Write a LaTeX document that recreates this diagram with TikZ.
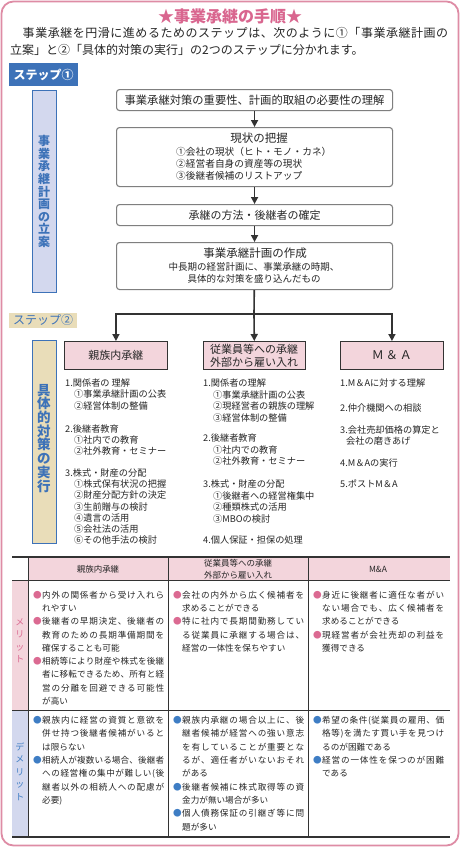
\documentclass[tikz,border=0pt]{standalone}
\usepackage{fontspec}
\setmainfont{Noto Sans CJK JP}
\usetikzlibrary{arrows.meta}
\definecolor{cframe}{HTML}{DE8CA5}
\definecolor{ctitle}{HTML}{D9668F}
\definecolor{cblue}{HTML}{3D72B8}
\definecolor{clav}{HTML}{D3D8EE}
\definecolor{ctan}{HTML}{E9DDB9}
\definecolor{cpink}{HTML}{F3D5DC}
\definecolor{cbpk}{HTML}{DB6A92}
\definecolor{cbbl}{HTML}{3E7DC4}
\definecolor{ctx}{HTML}{262626}
\definecolor{cgray}{HTML}{7F7F7F}
\definecolor{cline}{HTML}{333333}
\makeatletter
\newcommand{\sj}[2]{\hbox to #1{\@tfor\my@c:=#2\do{\my@c\hskip 0pt plus 1fil}\unskip}}
\makeatother
\newcommand{\jl}[1]{\sj{122pt}{#1}}
\newcommand{\bl}[2]{\makebox[9pt][l]{\color{#1}●}\sj{122pt}{#2}}
\begin{document}
\begin{tikzpicture}[x=1pt,y=-1pt,
  every node/.style={inner sep=0pt, text=ctx},
  fb/.style={draw=cgray, line width=1.1pt, rounded corners=3pt, fill=white, anchor=north west},
  pb/.style={draw=cline, line width=0.9pt, fill=cpink, anchor=north west, font=\fontsize{11}{13}\selectfont},
  arr/.style={draw=cline, line width=1.6pt, -{Triangle[length=7pt,width=7pt]}},
  ln/.style={draw=cline, line width=1.6pt},
  lst/.style={anchor=west, font=\fontsize{9.2}{11}\selectfont},
  cl/.style={anchor=base west, font=\fontsize{8.6}{10}\selectfont},
  tl/.style={draw=cline, line width=0.8pt},
  tlb/.style={draw=cline, line width=1.3pt},
]
\fill[white] (0,0) rectangle (460,847);
\useasboundingbox (0,0) rectangle (460,847);
\draw[cframe, line width=1.8pt, rounded corners=12pt] (1.5,1.5) rectangle (458.5,845.5);

% title and intro
\node[text=ctitle, font=\bfseries\fontsize{16}{18}\selectfont] (title) at (230,16) {★事業承継の手順★};
\node[anchor=base west, font=\fontsize{12}{14}\selectfont] (intro1) at (10,37.6) {\sj{438pt}{　事業承継を円滑に進めるためのステップは、次のように①「事業承継計画の}};
\node[anchor=base west, font=\fontsize{12}{14}\selectfont] (intro2) at (10,54.1) {立案」と②「具体的対策の実行」の2つのステップに分かれます。};

% step labels
\node[fill=cblue, text=white, anchor=north west, minimum width=69pt, minimum height=23pt, font=\bfseries\fontsize{12}{14}\selectfont] (s1) at (9,63) {ステップ①};
\node[fill=ctan, text=cblue, anchor=north west, minimum width=68pt, minimum height=15pt, font=\fontsize{12}{14}\selectfont] (s2) at (9,312.5) {ステップ②};

% vertical labels
\node[draw=cblue, fill=clav, line width=1pt, minimum width=24pt, minimum height=202pt, anchor=north west] (v1) at (32,90) {};
\foreach \c [count=\i] in {事,業,承,継,計,画,の,立,案}
  \node[anchor=base, text=cblue, font=\bfseries\fontsize{12}{14}\selectfont] (v1c\i) at (44,{145.6+12.6*(\i-1)}) {\c};
\node[draw=cblue, fill=ctan, line width=1pt, minimum width=24pt, minimum height=203pt, anchor=north west] (v2) at (32,340) {};
\foreach \c [count=\i] in {具,体,的,対,策,の,実,行}
  \node[anchor=base, text=cblue, font=\bfseries\fontsize{13.5}{15}\selectfont] (v2c\i) at (44,{395.1+13.7*(\i-1)}) {\c};

% flow boxes
\node[fb, minimum width=276pt, minimum height=21pt, font=\fontsize{11.3}{13}\selectfont] (b1) at (116,89) {事業承継対策の重要性、計画的取組の必要性の理解};
\node[fb, minimum width=276pt, minimum height=59pt] (b2) at (116,127) {};
\node[font=\fontsize{11.5}{13}\selectfont] (t2) at (259,138) {現状の把握};
\node[anchor=west, font=\fontsize{9.7}{12}\selectfont] (t2a) at (176,152) {①会社の現状（ヒト・モノ・カネ）};
\node[anchor=west, font=\fontsize{9.7}{12}\selectfont] (t2b) at (176,164) {②経営者自身の資産等の現状};
\node[anchor=west, font=\fontsize{9.7}{12}\selectfont] (t2c) at (176,176) {③後継者候補のリストアップ};
\node[fb, minimum width=276pt, minimum height=21pt, font=\fontsize{11}{13}\selectfont] (b3) at (116,204) {承継の方法・後継者の確定};
\node[fb, minimum width=276pt, minimum height=47pt] (b4) at (116,242) {};
\node[font=\fontsize{11.5}{13}\selectfont] (t4) at (255,253) {事業承継計画の作成};
\node[font=\fontsize{9.5}{12}\selectfont] (t4a) at (254,267) {中長期の経営計画に、事業承継の時期、};
\node[font=\fontsize{9.5}{12}\selectfont] (t4b) at (254,279) {具体的な対策を盛り込んだもの};

\draw[arr] (b1) -- (b2);
\draw[arr] (b2) -- (b3);
\draw[arr] (b3) -- (b4);

% branch boxes
\node[pb, minimum width=103pt, minimum height=28pt] (p1) at (64,341) {親族内承継};
\node[pb, minimum width=102pt, minimum height=28pt] (p2) at (203,341) {};
\node[font=\fontsize{11}{13}\selectfont] (p2a) at (254,349) {従業員等への承継};
\node[font=\fontsize{11}{13}\selectfont] (p2b) at (254,362) {外部から雇い入れ};
\node[pb, minimum width=103pt, minimum height=28pt, font=\fontsize{12}{13}\selectfont] (p3) at (340,341) {Ｍ\,＆\,Ａ};
\coordinate (jn) at (254,314);
\draw[ln] (b4) -- (jn);
\draw[arr] (jn) -| (p1);
\draw[arr] (jn) -- (p2);
\draw[arr] (jn) -| (p3);

% lists
\foreach \x/\y/\t [count=\i] in {65/383/{1.関係者の 理解}, 74/394.3/{①事業承継計画の公表}, 74/405.6/{②経営体制の整備}, 65/429/{2.後継者教育}, 74/440/{①社内での教育}, 74/451/{②社外教育・セミナー}, 65/473/{3.株式・財産の分配}, 74/484.2/{①株式保有状況の把握}, 74/495.4/{②財産分配方針の決定}, 74/506.6/{③生前贈与の検討}, 74/517.8/{④遺言の活用}, 74/529/{⑤会社法の活用}, 74/540.2/{⑥その他手法の検討}}
  \node[lst] (ka\i) at (\x,\y) {\t};
\foreach \x/\y/\t [count=\i] in {203/383/{1.関係者の理解}, 213/394.6/{①事業承継計画の公表}, 213/406.2/{②現経営者の親族の理解}, 213/417.8/{③経営体制の整備}, 203/438/{2.後継者教育}, 213/449.5/{①社内での教育}, 213/461/{②社外教育・セミナー}, 203/484/{3.株式・財産の分配}, 213/495.5/{①後継者への経営権集中}, 213/507/{②種類株式の活用}, 213/518.5/{③MBOの検討}, 203/540/{4.個人保証・担保の処理}}
  \node[lst] (kb\i) at (\x,\y) {\t};
\foreach \x/\y/\t [count=\i] in {340/383/{1.M＆Aに対する理解}, 340/408/{2.仲介機関への相談}, 340/430/{3.会社売却価格の算定と}, 346/441/{会社の磨きあげ}, 340/463/{4.M＆Aの実行}, 340/484/{5.ポストM＆A}}
  \node[lst] (kc\i) at (\x,\y) {\t};

% table
\fill[cpink] (28,557) rectangle (450,580);
\fill[cpink] (12,580) rectangle (28,710);
\fill[clav] (12,710) rectangle (28,837);
\draw[tl] (12,580) -- (450,580);
\draw[tl] (12,710) -- (450,710);
\draw[tl] (28,557) -- (28,837);
\draw[tl] (168,557) -- (168,837);
\draw[tl] (308,557) -- (308,837);
\draw[tlb] (12,557) -- (450,557);
\draw[tlb] (12,837) -- (450,837);

\node[font=\fontsize{8.5}{12}\selectfont] (h1) at (98,569) {親族内承継};
\node[font=\fontsize{8.5}{12}\selectfont] (h2a) at (238,563) {従業員等への承継};
\node[font=\fontsize{8.5}{12}\selectfont] (h2b) at (238,575) {外部から雇い入れ};
\node[font=\fontsize{8.5}{12}\selectfont] (h3) at (378,569) {M\&A};

\foreach \c [count=\i] in {メ,リ,ッ,ト}
  \node[anchor=base, text=cbpk, font=\fontsize{9}{11}\selectfont] (mv\i) at (20,{625.4+12.3*(\i-1)}) {\c};
\foreach \c [count=\i] in {デ,メ,リ,ッ,ト}
  \node[anchor=base, text=cbbl, font=\fontsize{9}{11}\selectfont] (dv\i) at (20,{750.4+12.5*(\i-1)}) {\c};

% merit cells
\foreach \x/\t [count=\i] in {33/{\bl{cbpk}{内外の関係者から受け入れら}}, 42/{れやすい}, 33/{\bl{cbpk}{後継者の早期決定、後継者の}}, 42/{\jl{教育のための長期準備期間を}}, 42/{確保することも可能}, 33/{\bl{cbpk}{相続等により財産や株式を後継}}, 42/{\jl{者に移転できるため、所有と経}}, 42/{\jl{営の分離を回避できる可能性}}, 42/{が高い}}
  \node[cl] (ma\i) at (\x,{598.3+13.25*(\i-1)}) {\t};
\foreach \x/\t [count=\i] in {173/{\bl{cbpk}{会社の内外から広く候補者を}}, 182/{求めることができる}, 173/{\bl{cbpk}{特に社内で長期間勤務してい}}, 182/{\jl{る従業員に承継する場合は、}}, 182/{経営の一体性を保ちやすい}}
  \node[cl] (mb\i) at (\x,{598.3+13.25*(\i-1)}) {\t};
\foreach \x/\t [count=\i] in {313/{\bl{cbpk}{身近に後継者に適任な者がい}}, 322/{\jl{ない場合でも、広く候補者を}}, 322/{求めることができる}, 313/{\bl{cbpk}{現経営者が会社売却の利益を}}, 322/{獲得できる}}
  \node[cl] (mc\i) at (\x,{598.3+13.25*(\i-1)}) {\t};

% demerit cells
\foreach \x/\t [count=\i] in {33/{\bl{cbbl}{親族内に経営の資質と意欲を}}, 42/{\jl{併せ持つ後継者候補がいると}}, 42/{は限らない}, 33/{\bl{cbbl}{相続人が複数いる場合、後継者}}, 42/{\jl{への経営権の集中が難しい(後}}, 42/{\jl{継者以外の相続人への配慮が}}, 42/{必要)}}
  \node[cl] (da\i) at (\x,{723.3+13.35*(\i-1)}) {\t};
\foreach \x/\t [count=\i] in {173/{\bl{cbbl}{親族内承継の場合以上に、後}}, 182/{\jl{継者候補が経営への強い意志}}, 182/{\jl{を有していることが重要とな}}, 182/{\jl{るが、適任者がいないおそれ}}, 182/{がある}, 173/{\bl{cbbl}{後継者候補に株式取得等の資}}, 182/{金力が無い場合が多い}, 173/{\bl{cbbl}{個人債務保証の引継ぎ等に問}}, 182/{題が多い}}
  \node[cl] (db\i) at (\x,{723.3+13.35*(\i-1)}) {\t};
\foreach \x/\t [count=\i] in {313/{\bl{cbbl}{希望の条件(従業員の雇用、価}}, 322/{\jl{格等)を満たす買い手を見つけ}}, 322/{るのが困難である}, 313/{\bl{cbbl}{経営の一体性を保つのが困難}}, 322/{である}}
  \node[cl] (dc\i) at (\x,{723.3+13.35*(\i-1)}) {\t};
\end{tikzpicture}
\end{document}
